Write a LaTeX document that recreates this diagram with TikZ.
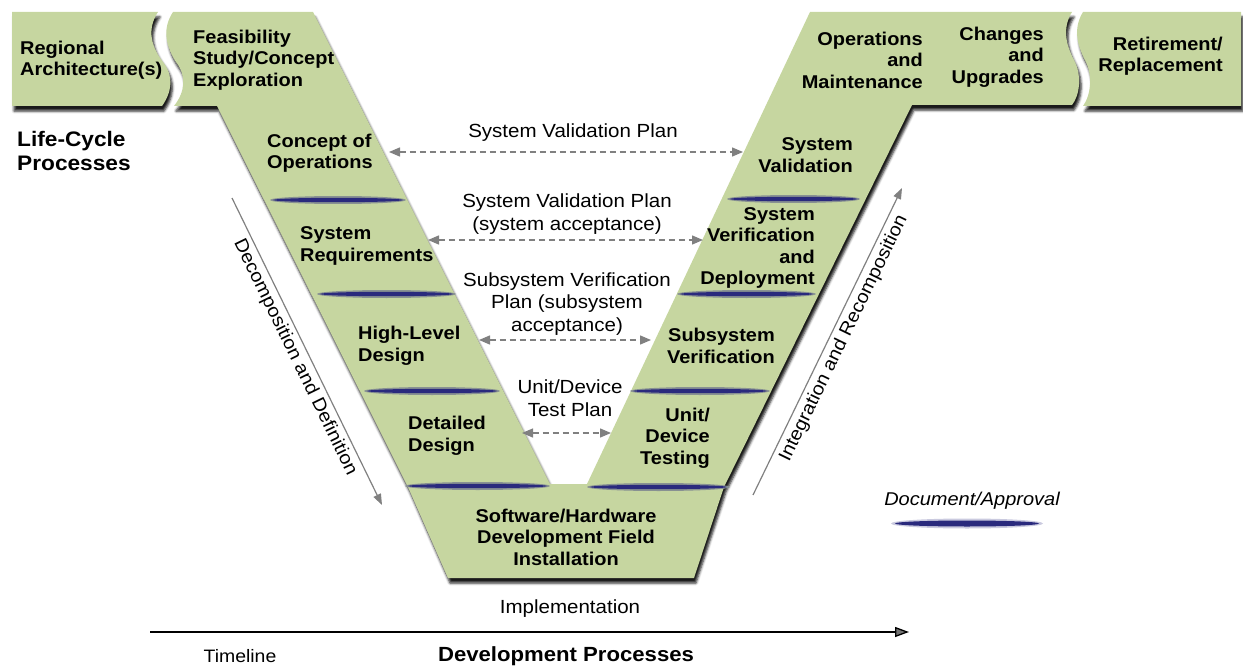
\documentclass[tikz,border=0pt]{standalone}
\usepackage{fontspec}
\setmainfont[FakeStretch=1.08]{Liberation Sans}
\usetikzlibrary{arrows.meta,shadows.blur}

\definecolor{vgreen}{RGB}{198,214,160}
\definecolor{docblue}{RGB}{42,42,125}
\definecolor{plangray}{RGB}{128,128,128}

\tikzset{
  phase/.style={fill=vgreen, blur shadow={shadow xshift=2pt, shadow yshift=-5pt, shadow blur radius=2.5pt, shadow opacity=90}},
  stage/.style={font=\bfseries\fontsize{18.5}{21.5}\selectfont, inner sep=0pt},
  plan/.style={font=\fontsize{19}{22.5}\selectfont, inner sep=0pt, align=center},
  planarrow/.style={plangray, line width=1.3pt, dash pattern=on 6pt off 4pt, {Triangle[width=9pt,length=11pt]}-{Triangle[width=9pt,length=11pt]}},
  flowarrow/.style={plangray, line width=1.2pt, -{Triangle[width=8pt,length=11pt]}},
  flowlabel/.style={text=black, font=\fontsize{18.5}{22}\selectfont, inner sep=4pt},
}

\begin{document}
\begin{tikzpicture}[x=1pt,y=-1pt]
  \useasboundingbox (0,0) rectangle (1243,666);

  % Draw the phase shapes
  \path[phase] (12,12) -- (158,12) .. controls (146,30) and (152,48) .. (163,62)
    .. controls (174,76) and (172,92) .. (162,106) -- (12,106) -- cycle;
  \path[phase] (173,12) -- (313,12) -- (550,484) -- (587,484) -- (810,12) -- (1072,12)
    .. controls (1062,28) and (1066,45) .. (1074,60)
    .. controls (1082,75) and (1080,95) .. (1072,105)
    -- (912,105) -- (724,487) -- (694,578) -- (448,578) -- (408,487) -- (217,106) -- (174,106)
    .. controls (185,92) and (187,76) .. (176,62)
    .. controls (167,48) and (161,30) .. (173,12) -- cycle;
  \path[phase] (1083,12) -- (1241,12) -- (1241,106) -- (1083,106)
    .. controls (1091,95) and (1093,75) .. (1085,60)
    .. controls (1077,45) and (1073,28) .. (1083,12) -- cycle;

  % Document/approval marks
  \foreach \y/\xa/\xb in {200/273/403, 294/320/453, 391/367/497, 486/408/547,
                          199/730/857, 294/680/813, 391/633/767, 487/590/727} {
    \fill[docblue!40!vgreen] ({(\xa+\xb)/2},\y) ellipse ({(\xb-\xa)/2+3} and 4);
    \fill[docblue] ({(\xa+\xb)/2},\y) ellipse ({(\xb-\xa)/2} and 2.2);
  }

  % Left side stages
  \node[stage, anchor=west, align=left] (regional) at (20,60) {Regional\\Architecture(s)};
  \node[stage, anchor=west, align=left] (feasibility) at (193,60) {Feasibility\\Study/Concept\\Exploration};
  \node[stage, anchor=west, align=left, font=\bfseries\fontsize{21}{24}\selectfont] (lifecycle) at (17,151) {Life-Cycle\\Processes};
  \node[stage, anchor=west, align=left] (conops) at (267,153) {Concept of\\Operations};
  \node[stage, anchor=west, align=left] (sysreq) at (300,246) {System\\Requirements};
  \node[stage, anchor=west, align=left] (hldesign) at (358,346) {High-Level\\Design};
  \node[stage, anchor=west, align=left] (detdesign) at (408,436) {Detailed\\Design};
  \node[stage, align=center] (swhw) at (566,537) {Software/Hardware\\Development Field\\Installation};

  % Right side stages
  \node[stage, anchor=east, align=right] (sysval) at (853,155) {System\\Validation};
  \node[stage, anchor=east, align=right] (sysver) at (815,248) {System\\Verification\\and\\Deployment};
  \node[stage, anchor=east, align=right] (subver) at (775,346) {Subsystem\\Verification};
  \node[stage, anchor=east, align=right] (unittest) at (710,438) {Unit/\\Device\\Testing};
  \node[stage, anchor=east, align=right] (opsmaint) at (923,60) {Operations\\and\\Maintenance};
  \node[stage, anchor=east, align=right] (changes) at (1044,57) {Changes\\and\\Upgrades};
  \node[stage, anchor=east, align=right] (retire) at (1223,56) {Retirement/\\Replacement};

  % Plans between the two arms
  \node[plan] (svplan) at (573,133) {System Validation Plan};
  \coordinate (svplan-l) at (389,152);
  \coordinate (svplan-r) at (743,152);
  \draw[planarrow] (svplan-l) -- (svplan-r);

  \node[plan] (sysplan) at (567,214) {System Validation Plan\\(system acceptance)};
  \coordinate (sysplan-l) at (428,240);
  \coordinate (sysplan-r) at (703,240);
  \draw[planarrow] (sysplan-l) -- (sysplan-r);

  \node[plan] (subplan) at (567,304) {Subsystem Verification\\Plan (subsystem\\acceptance)};
  \coordinate (subplan-l) at (479,340);
  \coordinate (subplan-r) at (651,340);
  \draw[planarrow] (subplan-l) -- (subplan-r);

  \node[plan] (unitplan) at (570,398) {Unit/Device\\Test Plan};
  \coordinate (unitplan-l) at (522,433);
  \coordinate (unitplan-r) at (611,433);
  \draw[planarrow] (unitplan-l) -- (unitplan-r);

  % Decomposition and integration
  \coordinate (dec-top) at (232,198);
  \coordinate (dec-bot) at (382,505);
  \draw[flowarrow] (dec-top) -- node[sloped, below, flowlabel] (declabel) {Decomposition and Definition} (dec-bot);
  \coordinate (int-bot) at (753,495);
  \coordinate (int-top) at (902,188);
  \draw[flowarrow] (int-bot) -- node[sloped, below, pos=0.53, flowlabel] (intlabel) {Integration and Recomposition} (int-top);

  \node[plan] (impl) at (570,609) {Implementation};

  % Timeline
  \coordinate (tl-start) at (150,632);
  \coordinate (tl-end) at (909,632);
  \draw[line width=1.3pt, -{Triangle[width=10pt,length=14pt]}] (tl-start) -- (tl-end);
  \node[plan, font=\fontsize{18}{22}\selectfont] (timeline) at (240,656) {Timeline};
  \node[stage, font=\bfseries\fontsize{20.5}{24}\selectfont] (devproc) at (566,656) {Development Processes};

  % Legend
  \node[plan, font=\itshape\fontsize{18.5}{22}\selectfont] (legend) at (972,501) {Document/Approval};
  \fill[docblue!25!white] (967,523.5) ellipse (76 and 5);
  \fill[docblue] (967,523.5) ellipse (72 and 3);
\end{tikzpicture}
\end{document}
